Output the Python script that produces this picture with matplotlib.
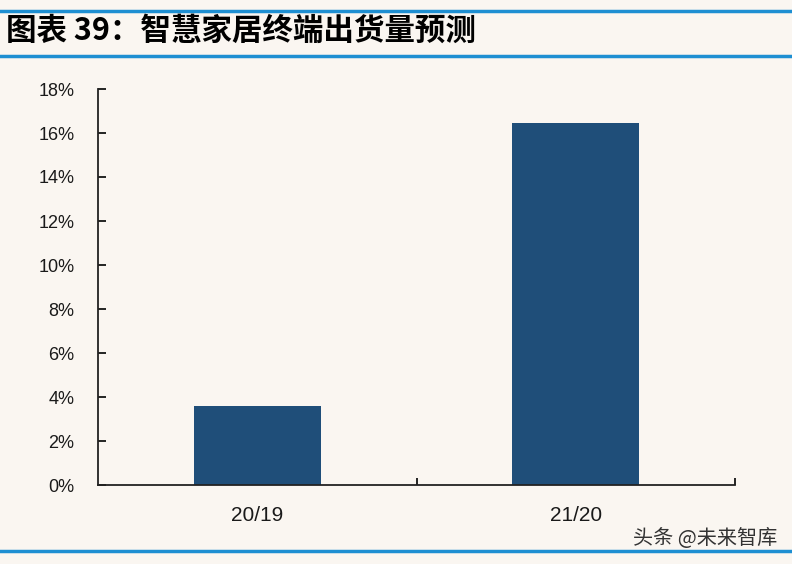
import matplotlib
matplotlib.use("Agg")
from matplotlib import pyplot as plt
from matplotlib.lines import Line2D
from matplotlib.ticker import FuncFormatter

plt.rcParams["font.family"] = ["Liberation Sans", "Noto Sans CJK SC", "DejaVu Sans"]

categories = ["20/19", "21/20"]
growth = [0.036, 0.1647]
y_ticks = [0.0, 0.02, 0.04, 0.06, 0.08, 0.10, 0.12, 0.14, 0.16, 0.18]

bg = "#FAF6F1"
bar_color = "#1F4E79"
rule_color = "#1E8FD2"
cjk = ["Noto Sans CJK SC", "DejaVu Sans"]

fig = plt.figure(figsize=(7.92, 5.64), dpi=100, facecolor=bg)
ax = fig.add_axes([98 / 792, 1 - 485 / 564, 637 / 792, 396 / 564], facecolor=bg)

x = list(range(len(categories)))
ax.bar(x, growth, width=0.4, color=bar_color)

ax.set_xlim(-0.5, 1.5)
ax.set_ylim(0, 0.18)
ax.set_yticks(y_ticks)
ax.yaxis.set_major_formatter(FuncFormatter(lambda v, _: f"{v*100:.0f}%"))
# ticks sit between categories, labels under the bars
ax.set_xticks([0.5, 1.5])
ax.set_xticklabels([])
ax.set_xticks(x, minor=True)
ax.set_xticklabels(categories, minor=True)
ax.tick_params(axis="x", which="major", direction="in", length=5, width=1.2)
ax.tick_params(axis="x", which="minor", length=0, pad=15, labelsize=15, labelcolor="#1a1a1a")
ax.tick_params(axis="y", direction="in", length=6, width=1.2, labelsize=13, pad=17,
               labelcolor="#1a1a1a")

for s in ["top", "right"]:
    ax.spines[s].set_visible(False)
for s in ["left", "bottom"]:
    ax.spines[s].set_linewidth(1.3)
    ax.spines[s].set_color("#222222")

# blue rules framing the chart
for yy in [1 - 11 / 564, 1 - 56 / 564, 1 - 551 / 564]:
    fig.add_artist(Line2D([0, 1], [yy, yy], transform=fig.transFigure,
                          color=rule_color, linewidth=2.5))

fig.text(6 / 792, 1 - 31 / 564, "图表 39：智慧家居终端出货量预测",
         fontsize=22, fontweight="heavy", va="center", ha="left",
         family=cjk, color="#000000")

fig.text(777 / 792, 1 - 538 / 564, "头条 @未来智库", fontsize=14.5, va="center",
         ha="right", family=cjk, color="#333333")

fig.savefig("out.png", dpi=100, facecolor=bg)
